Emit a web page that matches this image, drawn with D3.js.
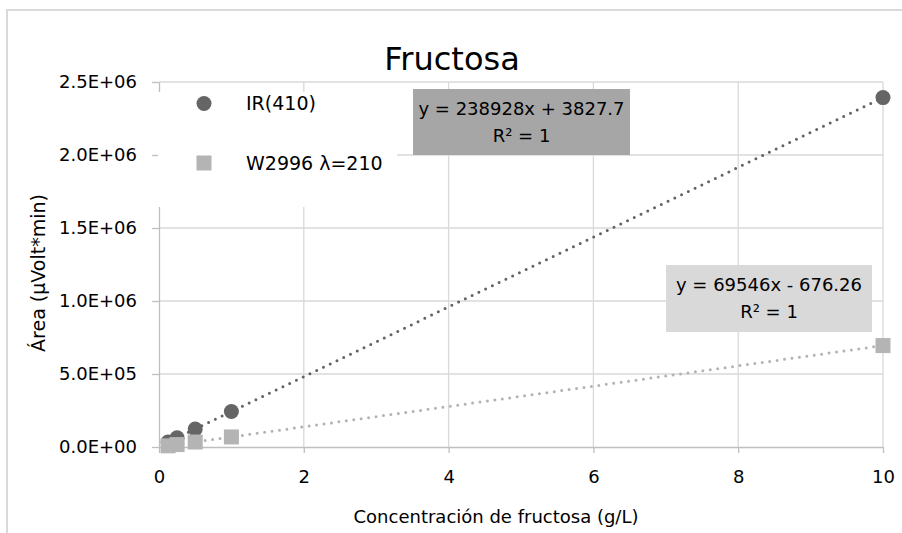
<!DOCTYPE html>
<html>
<head>
<meta charset="utf-8">
<script src="https://cdn.jsdelivr.net/npm/d3@7"></script>
<style>
  html, body { margin: 0; padding: 0; background: #fff; }
  svg { display: block; font-family: "DejaVu Sans", sans-serif; }
</style>
</head>
<body>
<svg id="chart" width="902" height="533"></svg>
<script>
// Concentrations (g/L) shared by both detectors
const concentrations = [0.125, 0.25, 0.5, 1, 10];
// Peak areas (µVolt*min)
const irArea = [33500, 63500, 123300, 242800, 2393100];
const uvArea = [8000, 16700, 34100, 68900, 694800];
const xTicks = [0, 2, 4, 6, 8, 10];
const yTicks = [0, 500000, 1000000, 1500000, 2000000, 2500000];
const seriesNames = ["IR(410)", "W2996 λ=210"];
const equations = [["y = 238928x + 3827.7", "R² = 1"], ["y = 69546x - 676.26", "R² = 1"]];
// Trend-line coefficients shown in the equation boxes
const slopes = [238928, 69546];
const intercepts = [3827.7, -676.26];

const FONT = '"DejaVu Sans", sans-serif';
const svg = d3.select("#chart");
const W = 902, H = 533;
const margin = { left: 159, right: 19, top: 82, bottom: 86 };

// Outer frame
svg.append("path")
  .attr("d", `M7,${H} L7,10 L${W},10`)
  .attr("fill", "none").attr("stroke", "#d9d9d9").attr("stroke-width", 2);

const x = d3.scaleLinear().domain([0, 10]).range([margin.left, W - margin.right]);
const y = d3.scaleLinear().domain([0, 2500000]).range([H - margin.bottom, margin.top]);

// Gridlines
const grid = svg.append("g");
grid.selectAll("line.h").data(yTicks.slice(1)).join("line")
  .attr("x1", x(0)).attr("x2", x(10))
  .attr("y1", d => y(d)).attr("y2", d => y(d))
  .attr("stroke", "#d9d9d9").attr("stroke-width", 1.3);
grid.selectAll("line.v").data(xTicks.slice(1)).join("line")
  .attr("x1", d => x(d)).attr("x2", d => x(d))
  .attr("y1", y(0)).attr("y2", y(2500000))
  .attr("stroke", "#d9d9d9").attr("stroke-width", 1.3);

// Axes
const fmtE = d => {
  if (d === 0) return "0.0E+00";
  const e = Math.floor(Math.log10(d));
  const m = d / Math.pow(10, e);
  return m.toFixed(1) + "E+" + String(e).padStart(2, "0");
};
const xAxis = svg.append("g").attr("transform", `translate(0,${y(0)})`)
  .call(d3.axisBottom(x).tickValues(xTicks).tickSize(6).tickPadding(17).tickSizeOuter(0));
const yAxis = svg.append("g").attr("transform", `translate(${x(0)},0)`)
  .call(d3.axisLeft(y).tickValues(yTicks).tickFormat(fmtE).tickSize(7).tickPadding(15).tickSizeOuter(0));
[xAxis, yAxis].forEach(a => {
  a.attr("font-family", FONT).attr("font-size", 18);
  a.select(".domain").attr("stroke", "#bfbfbf").attr("stroke-width", 1.3);
  a.selectAll(".tick line").attr("stroke", "#bfbfbf").attr("stroke-width", 1.3);
  a.selectAll(".tick text").attr("fill", "#000");
});

// Legend panel (covers gridlines)
const legend = svg.append("g");
legend.append("rect").attr("x", 158).attr("y", 92).attr("width", 239).attr("height", 115).attr("fill", "#fff");
legend.append("circle").attr("cx", 204).attr("cy", 103.5).attr("r", 7.5).attr("fill", "#656565");
legend.append("rect").attr("x", 196.5).attr("y", 155.5).attr("width", 15).attr("height", 15).attr("fill", "#b4b4b4");
legend.selectAll("text").data(seriesNames).join("text")
  .attr("x", 246).attr("y", (d, i) => i === 0 ? 103.5 : 163)
  .attr("dy", "0.36em").style("font-size", "19px").attr("fill", "#000").text(d => d);

// Trend lines (dotted), over the data range
const lineColors = ["#636363", "#b3b3b3"];
const xMin = d3.min(concentrations), xMax = d3.max(concentrations);
slopes.forEach((m, i) => {
  svg.append("line")
    .attr("x1", x(xMin)).attr("y1", y(m * xMin + intercepts[i]))
    .attr("x2", x(xMax)).attr("y2", y(m * xMax + intercepts[i]))
    .attr("stroke", lineColors[i]).attr("stroke-width", 3)
    .attr("stroke-linecap", "round").attr("stroke-dasharray", "0 7.5");
});

// Data markers: IR circles first, UV squares drawn on top
svg.append("g").selectAll("circle").data(concentrations).join("circle")
  .attr("cx", d => x(d)).attr("cy", (d, i) => y(irArea[i])).attr("r", 7.5)
  .attr("fill", "#656565");
svg.append("g").selectAll("rect").data(concentrations).join("rect")
  .attr("x", d => x(d) - 7.5).attr("y", (d, i) => y(uvArea[i]) - 7.5)
  .attr("width", 15).attr("height", 15).attr("fill", "#b4b4b4");

// Equation labels
const boxes = [
  { x: 413, y: 89, w: 217, h: 66, fill: "#a6a6a6" },
  { x: 666, y: 265, w: 206, h: 67, fill: "#d9d9d9" }
];
boxes.forEach((b, i) => {
  svg.append("rect").attr("x", b.x).attr("y", b.y).attr("width", b.w).attr("height", b.h).attr("fill", b.fill);
  equations[i].forEach((t, j) => {
    svg.append("text").attr("x", b.x + b.w / 2).attr("y", b.y + 20 + j * 27)
      .attr("text-anchor", "middle").attr("dy", "0.36em")
      .style("font-size", "18px").attr("fill", "#000").text(t);
  });
});

// Titles
svg.append("text").attr("x", 452).attr("y", 58).attr("text-anchor", "middle").attr("dy", "0.36em")
  .style("font-size", "32px").attr("fill", "#000").text("Fructosa");
svg.append("text").attr("x", 496).attr("y", 517).attr("text-anchor", "middle").attr("dy", "0.36em")
  .style("font-size", "18px").attr("fill", "#000").text("Concentración de fructosa (g/L)");
svg.append("text").attr("transform", "translate(38,273) rotate(-90)")
  .attr("text-anchor", "middle").attr("dy", "0.36em")
  .style("font-size", "19px").attr("fill", "#000").text("Área (µVolt*min)");
</script>
</body>
</html>
